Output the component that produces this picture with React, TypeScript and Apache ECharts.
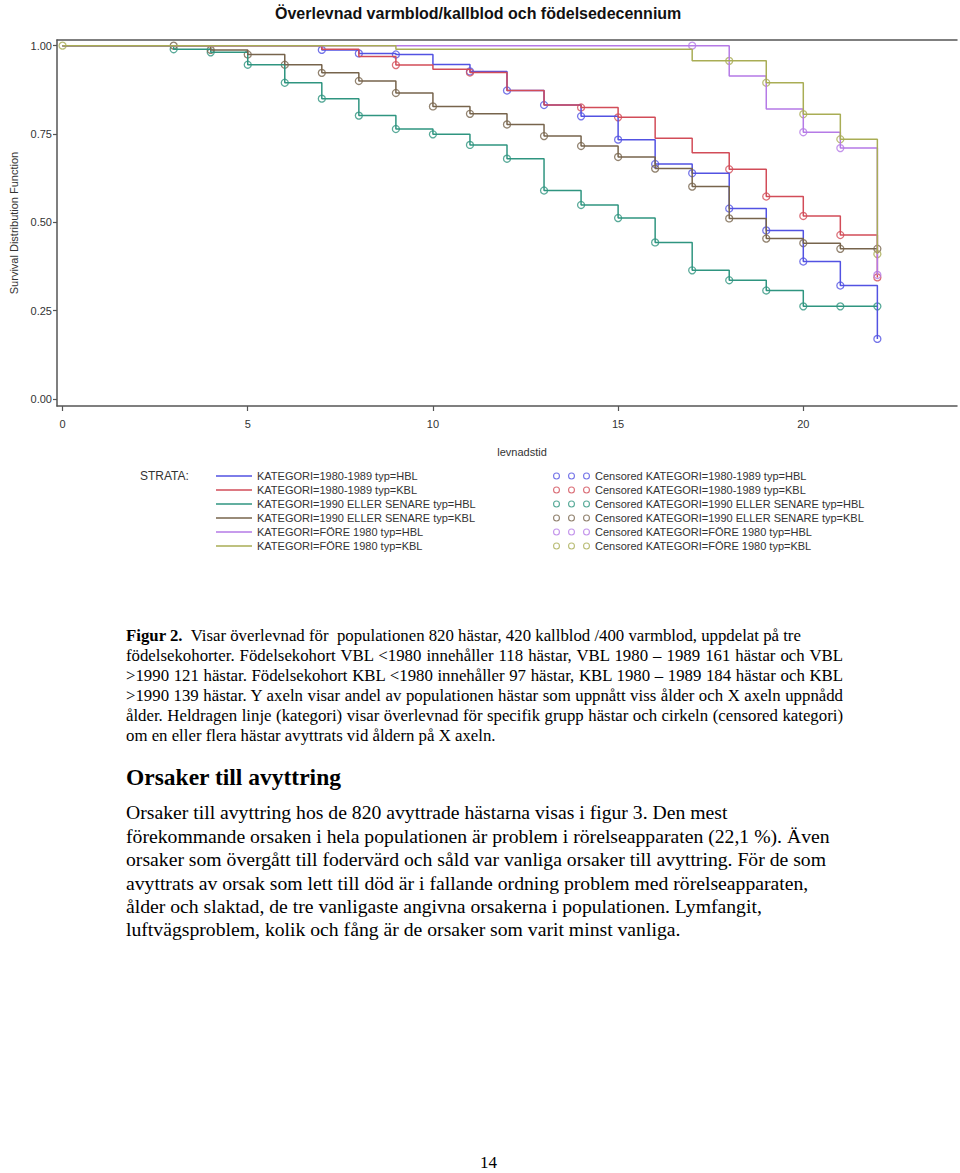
import React, { useEffect, useRef } from "react";
import * as echarts from "echarts";

// ---------- data ----------
const xTicks = [0, 5, 10, 15, 20];
const yTicks = [0, 0.25, 0.5, 0.75, 1];

const names = [
  "KATEGORI=1980-1989 typ=HBL",
  "KATEGORI=1980-1989 typ=KBL",
  "KATEGORI=1990 ELLER SENARE typ=HBL",
  "KATEGORI=1990 ELLER SENARE typ=KBL",
  "KATEGORI=FÖRE 1980 typ=HBL",
  "KATEGORI=FÖRE 1980 typ=KBL",
];
const colors = ["#5252e2", "#d24c58", "#2f9580", "#77644c", "#b57ae6", "#a9ad55"];

const blueT = [0, 7, 8, 9, 10, 11, 12, 13, 14, 15, 16, 17, 18, 19, 20, 21, 22];
const blueS = [1, 0.988, 0.978, 0.975, 0.947, 0.927, 0.873, 0.832, 0.8, 0.734, 0.665, 0.639, 0.539, 0.477, 0.389, 0.321, 0.17];
const blueC = [7, 8, 9, 11, 12, 13, 14, 15, 16, 17, 18, 19, 20, 21, 22];

const redT = [0, 7, 8, 9, 10, 11, 12, 13, 14, 15, 16, 17, 18, 19, 20, 21, 22];
const redS = [1, 0.99, 0.969, 0.945, 0.933, 0.924, 0.873, 0.832, 0.825, 0.797, 0.738, 0.697, 0.65, 0.573, 0.518, 0.464, 0.344];
const redC = [9, 11, 14, 15, 18, 19, 20, 21, 22];

const tealT = [0, 3, 4, 5, 6, 7, 8, 9, 10, 11, 12, 13, 14, 15, 16, 17, 18, 19, 20, 21, 22];
const tealS = [1, 0.99, 0.981, 0.946, 0.895, 0.85, 0.802, 0.764, 0.749, 0.719, 0.68, 0.59, 0.549, 0.512, 0.443, 0.364, 0.336, 0.307, 0.262, 0.262, 0.262];
const tealC = [3, 4, 5, 6, 7, 8, 9, 10, 11, 12, 13, 14, 15, 16, 17, 18, 19, 20, 21, 22];

const brownT = [0, 3, 4, 5, 6, 7, 8, 9, 10, 11, 12, 13, 14, 15, 16, 17, 18, 19, 20, 21, 22];
const brownS = [1, 1, 0.988, 0.975, 0.946, 0.923, 0.9, 0.866, 0.828, 0.807, 0.777, 0.744, 0.716, 0.685, 0.652, 0.601, 0.511, 0.454, 0.441, 0.425, 0.425];
const brownC = [3, 4, 5, 6, 7, 8, 9, 10, 11, 12, 13, 14, 15, 16, 17, 18, 19, 20, 21, 22];

const purpleT = [0, 17, 18, 19, 20, 21, 22];
const purpleS = [1, 1, 0.914, 0.821, 0.755, 0.71, 0.351];
const purpleC = [17, 20, 21, 22];

const oliveT = [0, 9, 17, 18, 19, 20, 21, 22];
const oliveS = [1, 0.99, 0.957, 0.957, 0.895, 0.806, 0.735, 0.41];
const oliveC = [0, 18, 19, 20, 21, 22];

const groups = [
  { t: blueT, s: blueS, c: blueC },
  { t: redT, s: redS, c: redC },
  { t: tealT, s: tealS, c: tealC },
  { t: brownT, s: brownS, c: brownC },
  { t: purpleT, s: purpleS, c: purpleC },
  { t: oliveT, s: oliveS, c: oliveC },
];

const captionLines = [
  "födelsekohorter. Födelsekohort VBL  <1980 innehåller 118 hästar, VBL 1980 – 1989 161 hästar och  VBL",
  ">1990 121 hästar. Födelsekohort KBL <1980 innehåller 97 hästar,  KBL 1980 – 1989 184 hästar och KBL",
  ">1990 139 hästar. Y axeln visar andel av populationen hästar som uppnått viss ålder och X axeln uppnådd",
  "ålder. Heldragen linje (kategori) visar överlevnad för specifik grupp hästar och cirkeln (censored kategori)",
  "om en eller flera hästar avyttrats vid åldern på X axeln.",
];
const bodyLines = [
  "Orsaker till avyttring hos de 820 avyttrade hästarna visas i figur 3. Den mest",
  "förekommande orsaken i hela populationen är problem i rörelseapparaten (22,1 %). Även",
  "orsaker som övergått till fodervärd och såld var vanliga orsaker till avyttring. För de som",
  "avyttrats av orsak som lett till död är i fallande ordning problem med rörelseapparaten,",
  "ålder och slaktad, de tre vanligaste angivna orsakerna i populationen. Lymfangit,",
  "luftvägsproblem, kolik och fång är de orsaker som varit minst vanliga.",
];

// ---------- helpers ----------
function stepValue(t: number[], s: number[], x: number) {
  let v = s[0];
  for (let i = 0; i < t.length; i++) if (t[i] <= x) v = s[i];
  return v;
}

function ringIcon() {
  let d = "path://";
  [3.5, 18.5, 33.5].forEach((cx) => {
    d += `M${cx - 3.5},3.5 A3.5,3.5 0 1,1 ${cx + 3.5},3.5 A3.5,3.5 0 1,1 ${cx - 3.5},3.5 Z `;
    d += `M${cx - 2.4},3.5 A2.4,2.4 0 1,0 ${cx + 2.4},3.5 A2.4,2.4 0 1,0 ${cx - 2.4},3.5 Z `;
  });
  return d;
}

const SANS = "'Liberation Sans', Arial, sans-serif";
const SERIF = "'Liberation Serif', 'Times New Roman', serif";

function buildOption() {
  const lineSeries = groups.map((g, i) => ({
    name: names[i],
    type: "line",
    step: "end",
    symbol: "none",
    data: g.t.map((t, k) => [t, g.s[k]]),
    lineStyle: { color: colors[i], width: 1.5 },
    itemStyle: { color: colors[i] },
    xAxisIndex: 0,
    yAxisIndex: 0,
  }));
  const censSeries = groups.map((g, i) => ({
    name: "Censored " + names[i],
    type: "scatter",
    symbol: "circle",
    symbolSize: 7,
    data: g.c.map((t) => [t, stepValue(g.t, g.s, t)]),
    itemStyle: { color: "rgba(255,255,255,0)", borderColor: colors[i], borderWidth: 1.3 },
    xAxisIndex: 0,
    yAxisIndex: 0,
  }));
  const xMin = -0.15;
  const xMax = 24.15;
  return {
    animation: false,
    backgroundColor: "#ffffff",
    title: {
      text: "Överlevnad varmblod/kallblod och födelsedecennium",
      left: 275,
      top: 5,
      padding: 0,
      textStyle: { fontSize: 16, fontWeight: "bold", fontFamily: SANS, color: "#111" },
    },
    grid: { left: 53, right: 3, top: 40, bottom: 174, containLabel: false },
    xAxis: [
      {
        type: "value",
        min: xMin,
        max: xMax,
        position: "bottom",
        axisLine: { show: true, onZero: false, lineStyle: { color: "#555", width: 1.5 } },
        axisTick: { show: true, length: 5, customValues: xTicks, lineStyle: { color: "#555", width: 1.2 } },
        axisLabel: { customValues: xTicks, fontSize: 11, color: "#333", fontFamily: SANS, margin: 12 },
        splitLine: { show: false },
        name: "levnadstid",
        nameLocation: "middle",
        nameGap: 40,
        nameTextStyle: { fontSize: 11, color: "#333", fontFamily: SANS, padding: [0, 0, 0, 30] },
      },
      {
        type: "value",
        min: xMin,
        max: xMax,
        position: "top",
        axisLine: { show: true, onZero: false, lineStyle: { color: "#555", width: 1.5 } },
        axisTick: { show: false },
        axisLabel: { show: false },
        splitLine: { show: false },
      },
    ],
    yAxis: {
      type: "value",
      min: -0.02,
      max: 1.016,
      axisLine: { show: true, onZero: false, lineStyle: { color: "#555", width: 1.5 } },
      axisTick: { show: true, length: 4, customValues: yTicks, lineStyle: { color: "#555", width: 1.2 } },
      axisLabel: {
        customValues: yTicks,
        formatter: (v: number) => v.toFixed(2),
        fontSize: 11,
        color: "#333",
        fontFamily: SANS,
        margin: 5,
      },
      splitLine: { show: false },
      name: "Survival Distribution Function",
      nameLocation: "middle",
      nameGap: 38,
      nameTextStyle: { fontSize: 11, color: "#333", fontFamily: SANS },
    },
    legend: [
      {
        orient: "vertical",
        left: 216,
        top: 469,
        padding: 0,
        itemGap: 0,
        itemWidth: 36,
        itemHeight: 1.6,
        icon: "rect",
        selectedMode: false,
        data: names,
        textStyle: { fontSize: 11, color: "#333", fontFamily: SANS, lineHeight: 14 },
      },
      {
        orient: "vertical",
        left: 553,
        top: 469,
        padding: 0,
        itemGap: 0,
        itemWidth: 37,
        itemHeight: 7,
        selectedMode: false,
        data: names.map((n, i) => ({
          name: "Censored " + n,
          icon: ringIcon(),
          itemStyle: { color: colors[i], borderWidth: 0 },
        })),
        textStyle: { fontSize: 11, color: "#333", fontFamily: SANS, lineHeight: 14 },
      },
    ],
    graphic: [
      {
        type: "text",
        left: 140,
        top: 469,
        style: { text: "STRATA:", fontSize: 12, fill: "#333", fontFamily: SANS, lineHeight: 14 },
      },
    ],
    series: [...lineSeries, ...censSeries],
  };
}

function TextLine(props: {
  top: number;
  size: number;
  lh: number;
  bold?: boolean;
  justify?: boolean;
  left?: number;
  children: React.ReactNode;
}) {
  const style: React.CSSProperties = {
    position: "absolute",
    left: props.left ?? 126,
    top: props.top,
    fontFamily: SERIF,
    fontSize: props.size,
    lineHeight: props.lh + "px",
    fontWeight: props.bold ? "bold" : "normal",
    color: "#000",
    whiteSpace: props.justify ? "nowrap" : "pre",
  };
  if (props.justify) {
    style.width = 717;
    style.textAlign = "justify";
    style.textAlignLast = "justify";
    style.height = props.lh;
  }
  return <div style={style}>{props.children}</div>;
}

export default function App() {
  const ref = useRef<HTMLDivElement>(null);
  useEffect(() => {
    const chart = echarts.init(ref.current as HTMLDivElement, null, { renderer: "svg" });
    chart.setOption(buildOption() as any);
    return () => chart.dispose();
  }, []);

  const capCenters = [656, 676, 696, 716, 736];
  const bodyCenters = [812, 836, 859, 883, 906, 929];

  return (
    <div
      style={{
        position: "absolute",
        left: 0,
        top: 0,
        width: 960,
        height: 1173,
        background: "#fff",
        overflow: "hidden",
      }}
    >
      <div ref={ref} style={{ position: "absolute", left: 0, top: 0, width: 960, height: 580 }} />
      <TextLine top={636 - 10} size={16.8} lh={20}>
        <b>Figur 2.</b>
        {"  Visar överlevnad för  populationen 820 hästar, 420 kallblod /400 varmblod, uppdelat på tre"}
      </TextLine>
      {captionLines.map((l, i) => (
        <TextLine key={i} top={capCenters[i] - 10} size={16.8} lh={20} justify={i < 4}>
          {l}
        </TextLine>
      ))}
      <TextLine top={777 - 13} size={23.5} lh={26} bold>
        Orsaker till avyttring
      </TextLine>
      {bodyLines.map((l, i) => (
        <TextLine key={i} top={bodyCenters[i] - 12} size={19.7} lh={24}>
          {l}
        </TextLine>
      ))}
      <TextLine top={1163 - 10} size={17} lh={20} left={480}>
        14
      </TextLine>
    </div>
  );
}
